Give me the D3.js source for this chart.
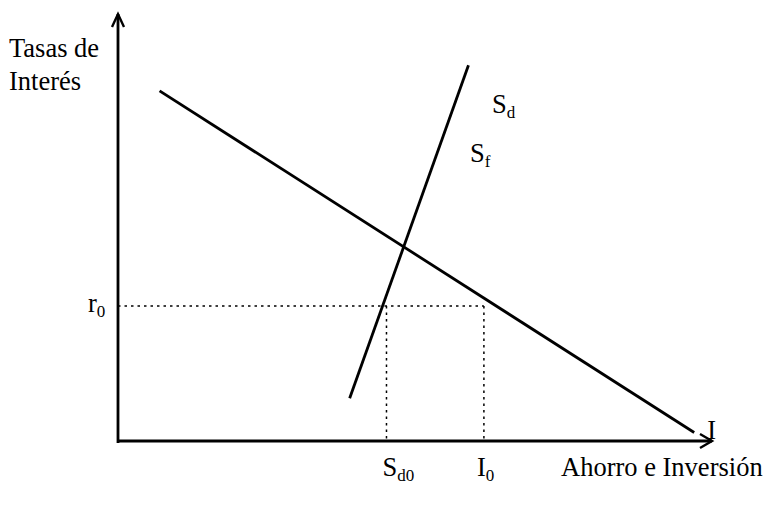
<!DOCTYPE html>
<html>
<head>
<meta charset="utf-8">
<script src="https://cdn.jsdelivr.net/npm/d3@7/dist/d3.min.js"></script>
<style>
  body { margin: 0; background: #fff; }
  svg text { font-family: "Liberation Serif", "Times New Roman", serif; fill: #000; }
</style>
</head>
<body>
<svg id="chart" width="767" height="509"></svg>
<script>
// ---- Data (model units, axes from 0 to 100) ----
const xDomain = [0, 100];
const yDomain = [0, 100];
const investmentLine = [[7, 82], [97, 2]];      // I
const savingsLine = [[39, 10], [59, 88]];        // S_d
const r0 = 31.6;                                 // equilibrium interest rate
const sd0 = 45.2;                                // domestic saving at r0
const i0 = 61.6;                                 // investment at r0
const yAxisTitle = ["Tasas de", "Interés"];
const xAxisTitle = "Ahorro e Inversión";

// ---- Layout ----
const svg = d3.select("#chart");
const x = d3.scaleLinear().domain(xDomain).range([118, 712]);
const y = d3.scaleLinear().domain(yDomain).range([441, 14]);

const ink = "#000";

// axes
svg.append("line").attr("x1", x(0)).attr("x2", x(100)).attr("y1", y(0)).attr("y2", y(0))
  .attr("stroke", ink).attr("stroke-width", 2.8);
svg.append("line").attr("x1", x(0)).attr("x2", x(0)).attr("y1", y(0) + 2).attr("y2", y(100))
  .attr("stroke", ink).attr("stroke-width", 2.8);
// arrowheads (open chevrons)
svg.append("path")
  .attr("d", `M${x(100) - 12},${y(0) - 7} L${x(100)},${y(0)} L${x(100) - 12},${y(0) + 7}`)
  .attr("fill", "none").attr("stroke", ink).attr("stroke-width", 2.4);
svg.append("path")
  .attr("d", `M${x(0) - 6},${y(100) + 13} L${x(0)},${y(100)} L${x(0) + 6},${y(100) + 13}`)
  .attr("fill", "none").attr("stroke", ink).attr("stroke-width", 2.4);

const line = d3.line().x(d => x(d[0])).y(d => y(d[1]));

// dotted guides
const dotted = (pts) => svg.append("path").attr("d", line(pts))
  .attr("fill", "none").attr("stroke", ink).attr("stroke-width", 1.5)
  .attr("stroke-dasharray", "2.5,4");
dotted([[0, r0], [i0, r0]]);
dotted([[sd0, r0], [sd0, 0]]);
dotted([[i0, r0], [i0, 0]]);

// I and S_d lines
svg.append("path").attr("d", line(investmentLine))
  .attr("fill", "none").attr("stroke", ink).attr("stroke-width", 2.8);
svg.append("path").attr("d", line(savingsLine))
  .attr("fill", "none").attr("stroke", ink).attr("stroke-width", 2.8);

// ---- Text ----
const fs = 26.5, sub = 17;
function label(px, py, main, subs, anchor) {
  const t = svg.append("text").attr("x", px).attr("y", py)
    .attr("font-size", fs).attr("text-anchor", anchor || "start");
  t.append("tspan").text(main);
  if (subs) t.append("tspan").attr("font-size", sub).attr("dy", 5).text(subs);
  return t;
}

svg.append("text").attr("x", 9).attr("y", 57).attr("font-size", fs).text(yAxisTitle[0]);
svg.append("text").attr("x", 9).attr("y", 90).attr("font-size", fs).text(yAxisTitle[1]);
svg.append("text").attr("x", 561).attr("y", 476).attr("font-size", fs).text(xAxisTitle);

label(x(0) - 30, y(r0) + 6, "r", "0");
label(x(sd0) - 4, 476, "S", "d0");
label(x(i0) - 7, 476, "I", "0");
label(x(investmentLine[1][0]) + 13, y(investmentLine[1][1]) + 7, "I");
label(492, 113, "S", "d");
label(470, 162, "S", "f");
</script>
</body>
</html>
